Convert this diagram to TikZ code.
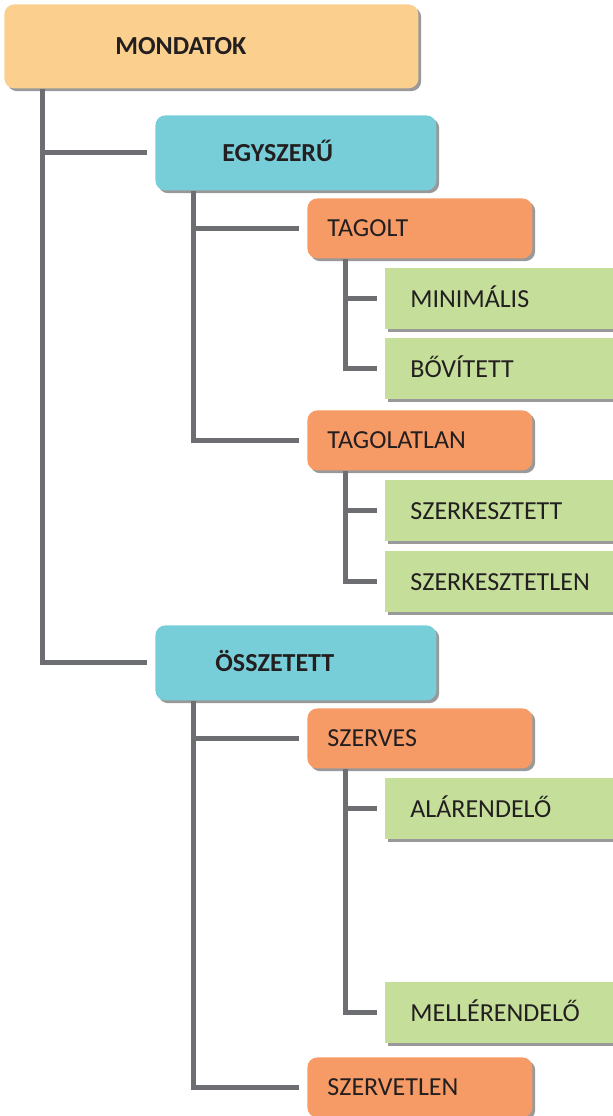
\documentclass[tikz,border=0pt]{standalone}
\usepackage{fontspec}
\setmainfont{Carlito}
\usepackage{tikz}
\usetikzlibrary{shadows}
\definecolor{rootorange}{RGB}{251,208,143}
\definecolor{mainteal}{RGB}{120,206,216}
\definecolor{suborange}{RGB}{247,155,102}
\definecolor{leafgreen}{RGB}{197,223,154}
\definecolor{linegray}{RGB}{109,110,113}
\definecolor{inkgray}{RGB}{35,31,32}

\begin{document}
\begin{tikzpicture}[x=0.5pt, y=-0.5pt, font=\fontsize{13}{15}\selectfont, text=inkgray,
  box/.style={anchor=north west, align=left, text height=8.4pt, text depth=0pt, inner ysep=0pt, drop shadow={shadow xshift=1.4pt, shadow yshift=-1.4pt, fill=black!40, opacity=1}},
  rootbox/.style={box, rounded corners=5pt, fill=rootorange, font=\fontsize{13}{15}\selectfont\bfseries, minimum height=42pt, inner xsep=55.5pt, text width=96pt},
  mainbox/.style={box, rounded corners=5pt, fill=mainteal, font=\fontsize{13}{15}\selectfont\bfseries, minimum height=37.5pt, inner xsep=30pt, text width=80.5pt},
  subbox/.style={box, rounded corners=5pt, fill=suborange, minimum height=30pt, inner xsep=10pt, text width=92.5pt},
  leafbox/.style={box, fill=leafgreen, minimum height=30.5pt, inner xsep=12.5pt, text width=100pt},
  conn/.style={draw=linegray, line width=2.5pt}]
\useasboundingbox (0,0) rectangle (612,1116);
\node[rootbox] (mond) at (4,4) {MONDATOK};
\node[mainbox, inner xsep=33.5pt, text width=73.5pt] (egy) at (155,115) {EGYSZERŰ};
\node[subbox] (tag) at (307,198) {TAGOLT};
\node[leafbox] (mini) at (385,268) {MINIMÁLIS};
\node[leafbox] (bov) at (385,338) {BŐVÍTETT};
\node[subbox] (tagl) at (307,410) {TAGOLATLAN};
\node[leafbox] (szt) at (385,480) {SZERKESZTETT};
\node[leafbox] (sztl) at (385,551) {SZERKESZTETLEN};
\node[mainbox] (ossz) at (155,625) {ÖSSZETETT};
\node[subbox] (szerv) at (307,708) {SZERVES};
\node[leafbox] (alar) at (385,778) {ALÁRENDELŐ};
\node[leafbox] (mell) at (385,982) {MELLÉRENDELŐ};
\node[subbox] (szvl) at (307,1057) {SZERVETLEN};
\draw[conn] ([xshift=19pt]mond.south west) |- ([xshift=-4pt]egy.west);
\draw[conn] ([xshift=19pt]mond.south west) |- ([xshift=-4pt]ossz.west);
\draw[conn] ([xshift=19pt]egy.south west) |- ([xshift=-4pt]tag.west);
\draw[conn] ([xshift=19pt]egy.south west) |- ([xshift=-4pt]tagl.west);
\draw[conn] ([xshift=19pt]tag.south west) |- ([xshift=-4pt]mini.west);
\draw[conn] ([xshift=19pt]tag.south west) |- ([xshift=-4pt]bov.west);
\draw[conn] ([xshift=19pt]tagl.south west) |- ([xshift=-4pt]szt.west);
\draw[conn] ([xshift=19pt]tagl.south west) |- ([xshift=-4pt]sztl.west);
\draw[conn] ([xshift=19pt]ossz.south west) |- ([xshift=-4pt]szerv.west);
\draw[conn] ([xshift=19pt]ossz.south west) |- ([xshift=-4pt]szvl.west);
\draw[conn] ([xshift=19pt]szerv.south west) |- ([xshift=-4pt]alar.west);
\draw[conn] ([xshift=19pt]szerv.south west) |- ([xshift=-4pt]mell.west);
\end{tikzpicture}
\end{document}
